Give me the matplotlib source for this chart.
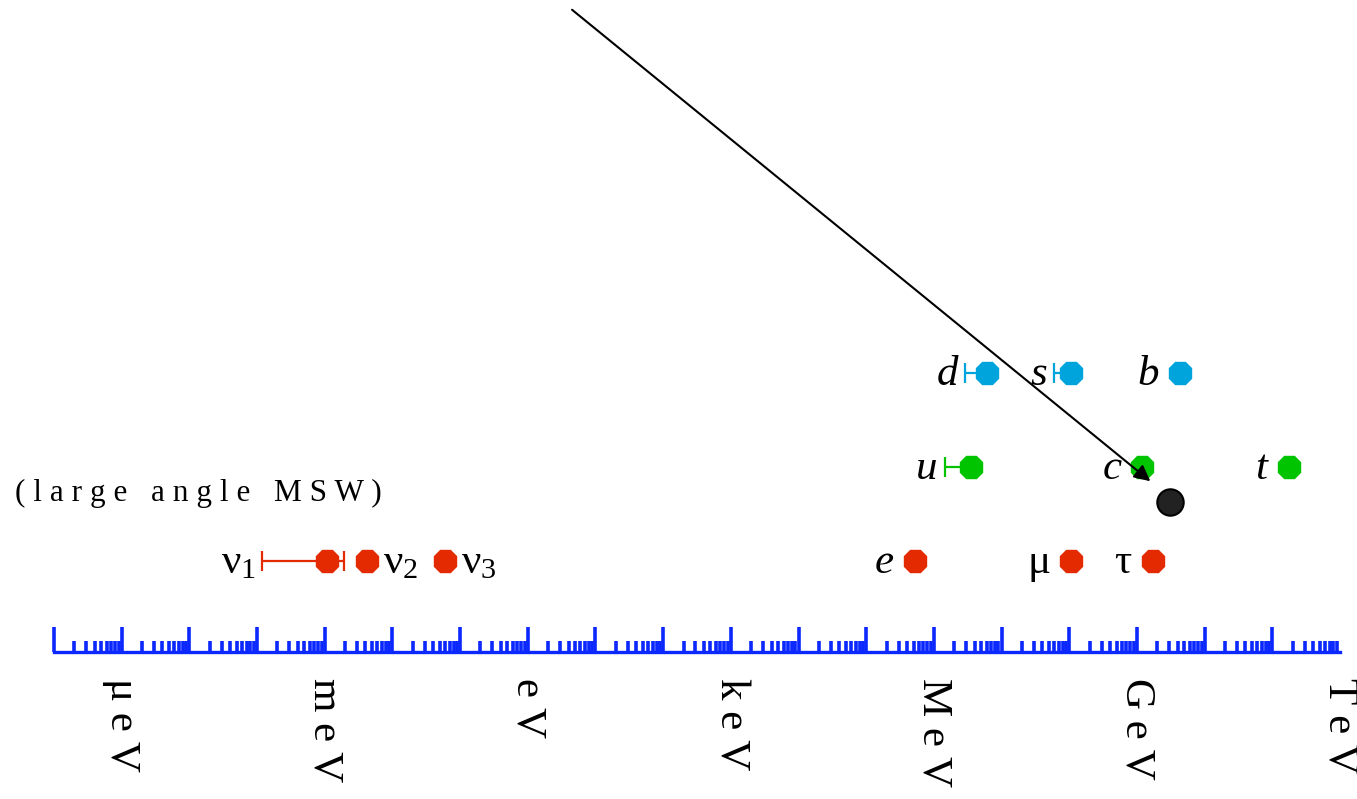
import numpy as np
import matplotlib.pyplot as plt
from matplotlib.ticker import FixedLocator, LogLocator, NullFormatter

# masses in eV
nu_names = ['1', '2', '3']
nu_mass = [1.07e-3, 4.2e-3, 6.0e-2]
nu1_lo, nu1_hi = 1.17e-4, 1.9e-3

lep_names = ['e', 'μ', 'τ']
lep_mass = [5.2e5, 1.07e8, 1.7e9]

up_names = ['u', 'c', 't']
up_mass = [3.5e6, 1.2e9, 1.74e11]
up_lo = [1.45e6, None, None]

down_names = ['d', 's', 'b']
down_mass = [6.0e6, 1.07e8, 4.3e9]
down_lo = [2.9e6, 5.9e7, None]

unit_labels = ['μ e V', 'm e V', 'e V', 'k e V', 'M e V', 'G e V', 'T e V']
unit_pos = [1e-6, 1e-3, 1e0, 1e3, 1e6, 1e9, 1e12]

dot_mass = 3.1e9

RED = '#e42a00'
GREEN = '#00c400'
BLUE = '#00a4dc'
AXBLUE = '#0a28ff'

# vertical layout (pixels from the top)
Y_AXIS, Y_LEP, Y_UP, Y_DOWN, Y_DOT = 652, 561, 467, 373, 502

plt.rcParams['mathtext.fontset'] = 'custom'
plt.rcParams['mathtext.rm'] = 'Liberation Serif'
plt.rcParams['mathtext.it'] = 'Liberation Serif:italic'

fig = plt.figure(figsize=(13.57, 7.99), dpi=100)
ax = fig.add_axes([54 / 1357, 0, 1286 / 1357, 1])
ax.set_xscale('log')
ax.set_xlim(1e-7, 1e12)
ax.set_ylim(799, 0)
ax.patch.set_visible(False)
for s in ['top', 'left', 'right']:
    ax.spines[s].set_visible(False)
ax.spines['bottom'].set_position(('data', Y_AXIS))
ax.spines['bottom'].set_color(AXBLUE)
ax.spines['bottom'].set_linewidth(2.4)
ax.yaxis.set_visible(False)
ax.xaxis.set_major_locator(FixedLocator(10.0 ** np.arange(-7, 12)))
ax.xaxis.set_minor_locator(LogLocator(base=10, subs=np.arange(2, 10), numticks=40))
ax.xaxis.set_major_formatter(NullFormatter())
ax.xaxis.set_minor_formatter(NullFormatter())
ax.tick_params(axis='x', which='major', direction='in', length=18, width=2.6, color=AXBLUE)
ax.tick_params(axis='x', which='minor', direction='in', length=8, width=2.6, color=AXBLUE)

for lab, x in zip(unit_labels, unit_pos):
    ax.text(x, 678, lab, rotation=270, ha='center', va='top',
            family='Liberation Serif', fontsize=31, clip_on=False)

mk = dict(marker='8', markersize=17, linestyle='none')
txt = dict(family='Liberation Serif', fontsize=31, ha='right', va='baseline',
           textcoords='offset pixels', annotation_clip=False)


def draw_row(names, masses, lows, y, color):
    for name, m, lo in zip(names, masses, lows):
        if lo is not None:
            ax.errorbar([m], [y], xerr=[[m - lo], [0]], color=color, elinewidth=1.6,
                        capsize=7, capthick=1.6, **mk)
            anchor, off = lo, -7
        else:
            ax.plot([m], [y], color=color, **mk)
            anchor, off = m, -21
        style = 'normal' if name in 'μτ' else 'italic'
        ax.annotate(name, (anchor, y), xytext=(off, -12), style=style, **txt)


draw_row(lep_names, lep_mass, [None] * 3, Y_LEP, RED)
draw_row(up_names, up_mass, up_lo, Y_UP, GREEN)
draw_row(down_names, down_mass, down_lo, Y_DOWN, BLUE)

# neutrinos
ax.errorbar([nu_mass[0]], [Y_LEP], xerr=[[nu_mass[0] - nu1_lo], [nu1_hi - nu_mass[0]]],
            color=RED, elinewidth=1.6, capsize=7, capthick=1.6, **mk)
ax.plot(nu_mass[1:], [Y_LEP] * 2, color=RED, **mk)
nu_lab = [r'$\mathrm{\nu}_{%s}$' % n for n in nu_names]
ax.annotate(nu_lab[0], (nu1_lo, Y_LEP), xytext=(-6, -12), textcoords='offset pixels',
            ha='right', va='baseline', fontsize=31)
for lab, m in zip(nu_lab[1:], nu_mass[1:]):
    ax.annotate(lab, (m, Y_LEP), xytext=(16, -12), textcoords='offset pixels',
                ha='left', va='baseline', fontsize=31)

fig.text(15 / 1357, 1 - 493 / 799, '( l a r g e   a n g l e   M S W )',
         family='Liberation Serif', fontsize=22.5, va='center', ha='left')

# black dot and arrow
ax.plot([dot_mass], [Y_DOT], marker='o', markersize=19, color='#222222',
        markeredgecolor='black', markeredgewidth=1.5, linestyle='none')
ax.annotate('', xy=(10 ** 9.23, 483), xytext=(10 ** 0.622, 8),
            arrowprops=dict(arrowstyle='-|>', color='black', lw=1.5, mutation_scale=24),
            annotation_clip=False)

fig.savefig('out.png', dpi=100)
